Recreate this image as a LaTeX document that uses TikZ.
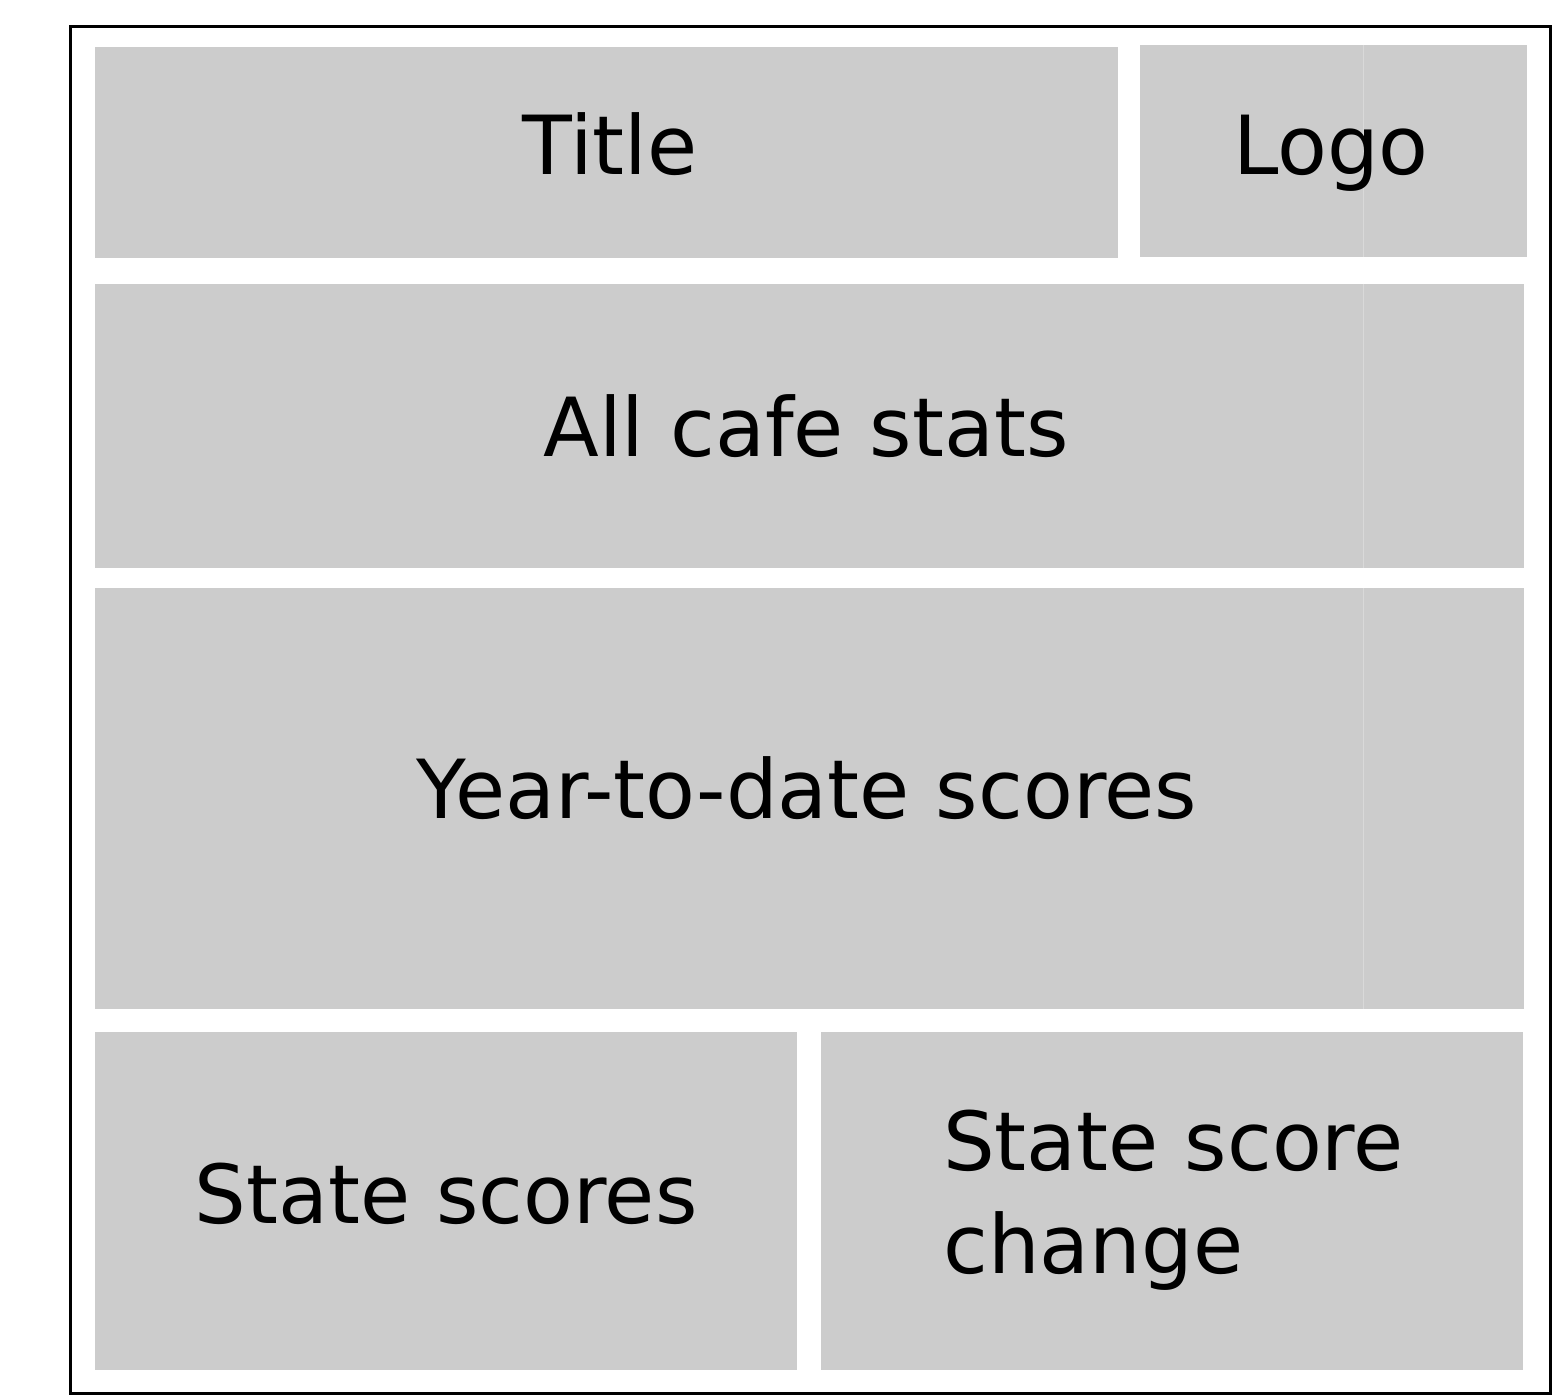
\documentclass[tikz,border=0pt]{standalone}
\usepackage{fontspec}
\setmainfont{DejaVu Sans}
\begin{document}
\begin{tikzpicture}[x=1pt,y=-1pt,
  panel/.style={fill=black!20,draw=none},
  label/.style={inner sep=0pt,font=\fontsize{81.5}{103}\selectfont},
  frame/.style={draw=black,line width=3pt},
  guide/.style={draw=black!15,line width=1pt}]
  \useasboundingbox (0,0) rectangle (1554,1396);
  % outer frame
  \draw[frame] (70,27) rectangle (1550,1393.5);
  % panels
  \path[panel] (95,47) rectangle (1118,258);
  \path[panel] (1140,45) rectangle (1527,257);
  \path[panel] (95,284) rectangle (1524,568);
  \path[panel] (95,588) rectangle (1524,1009);
  \path[panel] (95,1032) rectangle (797,1370);
  \path[panel] (821,1032) rectangle (1523,1370);
  % column guide inside the right-hand panels
  \draw[guide] (1363,45) -- (1363,257);
  \draw[guide] (1363,284) -- (1363,568);
  \draw[guide] (1363,588) -- (1363,1009);
  % labels
  \node[label,anchor=base] (title) at (610,175) {Title};
  \node[label,anchor=base] (logo) at (1331,175) {Logo};
  \node[label,anchor=base] (cafe) at (806,456) {All cafe stats};
  \node[label,anchor=base] (ytd) at (807,818) {Year-to-date scores};
  \node[label,anchor=base] (state) at (446,1223) {State scores};
  \node[label,anchor=west,align=left] (change) at (943,1200) {State score\\change};
\end{tikzpicture}
\end{document}
